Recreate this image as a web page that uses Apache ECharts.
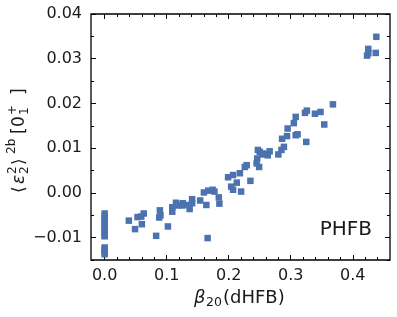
<!DOCTYPE html>
<html><head><meta charset="utf-8">
<script src="https://cdn.jsdelivr.net/npm/echarts@6/dist/echarts.min.js"></script>
<style>html,body{margin:0;padding:0;background:#fff}#c{width:397px;height:317px}</style>
</head><body><div id="c"></div>
<script>
// ---- data ----
const beta20 = [
  0,0,0,0,0,0,0,0,0,0,0,0,0,0,
  0.039,0.053,0.049,0.060,0.063,0.059,0.083,0.089,0.088,0.090,
  0.102,0.109,0.109,0.115,0.118,0.125,0.126,0.131,0.137,0.141,
  0.141,0.154,0.160,0.164,0.167,0.174,0.177,0.184,0.185,0.166,
  0.199,0.207,0.204,0.207,0.213,0.218,0.220,0.226,0.229,0.235,
  0.245,0.249,0.246,0.250,0.255,0.262,0.247,0.254,0.266,0.263,
  0.280,0.285,0.289,0.286,0.294,0.295,0.305,0.308,0.308,0.311,
  0.325,0.323,0.326,0.339,0.348,0.354,0.368,
  0.438,0.425,0.423,0.437,0.425
];
const eps2 = [
  -0.0046,-0.0052,-0.0058,-0.0064,-0.0070,-0.0076,-0.0082,-0.0088,-0.0094,-0.0097,-0.0122,-0.0127,-0.0132,-0.0137,
  -0.0062,-0.0054,-0.0081,-0.0070,-0.0046,-0.0053,-0.0096,-0.0039,-0.0055,-0.0050,
  -0.0075,-0.0042,-0.0032,-0.0022,-0.0028,-0.0028,-0.0023,-0.0027,-0.0036,-0.0014,
  -0.0023,-0.0017,0.0001,-0.0027,0.0005,0.0007,0.0003,-0.0010,-0.0024,-0.0101,
  0.0035,0.0040,0.0014,0.0007,0.0023,0.0044,0.0003,0.0058,0.0062,0.0027,
  0.0066,0.0058,0.0077,0.0092,0.0088,0.0087,0.0096,0.0086,0.0093,0.0084,
  0.0086,0.0096,0.0103,0.0121,0.0127,0.0144,0.0156,0.0170,0.0129,0.0131,
  0.0114,0.0179,0.0184,0.0177,0.0181,0.0153,0.0198,
  0.0349,0.0322,0.0307,0.0313,0.0312
];
const xMajorTicks = [0, 0.1, 0.2, 0.3, 0.4];
const xMinorTicks = [0.02,0.04,0.06,0.08,0.12,0.14,0.16,0.18,0.22,0.24,0.26,0.28,0.32,0.34,0.36,0.38,0.42,0.44];
const yMajorTicks = [-0.01, 0, 0.01, 0.02, 0.03, 0.04];
const yMinorTicks = [-0.015,-0.005,0.005,0.015,0.025,0.035];
const xRange = [-0.022, 0.46];
const yRange = [-0.015, 0.04];
const annotation = 'PHFB';

// ---- build ----
const FONT = '"DejaVu Sans", sans-serif';
const TXT = '#1a1a1a';
const points = beta20.map((x, i) => [x, eps2[i]]);
const fmt = (d) => (v) => v.toFixed(d).replace('-', '\u2212');

function xAx(pos, ticks, len, labels) {
  return {
    type: 'value', position: pos, min: xRange[0], max: xRange[1],
    axisLine: { show: false, onZero: false }, splitLine: { show: false },
    axisTick: { show: true, inside: true, length: len, customValues: ticks, lineStyle: { color: '#000', width: 1 } },
    axisLabel: labels ? { show: true, customValues: ticks, formatter: fmt(1), margin: 8, fontFamily: FONT, fontSize: 16, color: TXT } : { show: false }
  };
}
function yAx(pos, ticks, len, labels) {
  return {
    type: 'value', position: pos, min: yRange[0], max: yRange[1],
    axisLine: { show: false, onZero: false }, splitLine: { show: false },
    axisTick: { show: true, inside: true, length: len, customValues: ticks, lineStyle: { color: '#000', width: 1 } },
    axisLabel: labels ? { show: true, customValues: ticks, formatter: fmt(2), margin: 9, fontFamily: FONT, fontSize: 16, color: TXT } : { show: false }
  };
}

// math-like label built from positioned text pieces (x = offset along the reading direction)
function mathGroup(pieces, base, small, total, cx, cy, rot) {
  const children = pieces.map(p => {
    const sz = p.s ? small : base;
    return {
      type: 'text', x: p.x - total / 2, y: p.dy || 0,
      style: { text: p.t, font: (p.it ? 'italic ' : '') + sz + 'px ' + FONT, fill: TXT, align: 'left', verticalAlign: 'middle' }
    };
  });
  return { type: 'group', x: cx, y: cy, rotation: rot, children: children };
}

const yLabel = mathGroup([
  { t: '\u27E8', x: 2 },
  { t: '\u03B5', it: true, x: 11 },
  { t: '2', s: true, x: 21, dy: -7 },
  { t: '2', s: true, x: 21, dy: 5 },
  { t: '\u27E9', x: 30 },
  { t: '2b', s: true, x: 41, dy: -8 },
  { t: '[', x: 61 },
  { t: '0', x: 68 },
  { t: '+', s: true, x: 80, dy: -7 },
  { t: '1', s: true, x: 80, dy: 5 },
  { t: ']', x: 100 }
], 17, 12, 110, 20, 140, Math.PI / 2);

const xLabel = mathGroup([
  { t: '\u03B2', it: true, x: 0 },
  { t: '20', s: true, x: 12, dy: 4 },
  { t: '(dHFB)', x: 29 }
], 18, 12.5, 93, 240.5, 298.5, 0);

const chart = echarts.init(document.getElementById('c'), null, { renderer: 'canvas' });
chart.setOption({
  animation: false,
  backgroundColor: '#fff',
  grid: { left: 91, right: 7, top: 14, bottom: 57, show: true, borderColor: '#000', borderWidth: 1.3, backgroundColor: 'transparent' },
  xAxis: [
    xAx('bottom', xMajorTicks, 5, true),
    xAx('bottom', xMinorTicks, 3, false),
    xAx('top', xMajorTicks, 5, false),
    xAx('top', xMinorTicks, 3, false)
  ],
  yAxis: [
    yAx('left', yMajorTicks, 5, true),
    yAx('left', yMinorTicks, 3, false),
    yAx('right', yMajorTicks, 5, false),
    yAx('right', yMinorTicks, 3, false)
  ],
  series: [{
    type: 'scatter', xAxisIndex: 0, yAxisIndex: 0,
    symbol: 'rect', symbolSize: 6.5,
    itemStyle: { color: '#4C72B0', opacity: 1 },
    data: points
  }],
  graphic: [
    yLabel,
    xLabel,
    { type: 'text', x: 372, y: 230, style: { text: annotation, font: '20px ' + FONT, fill: TXT, align: 'right', verticalAlign: 'middle' } }
  ]
});
</script>
</body></html>
